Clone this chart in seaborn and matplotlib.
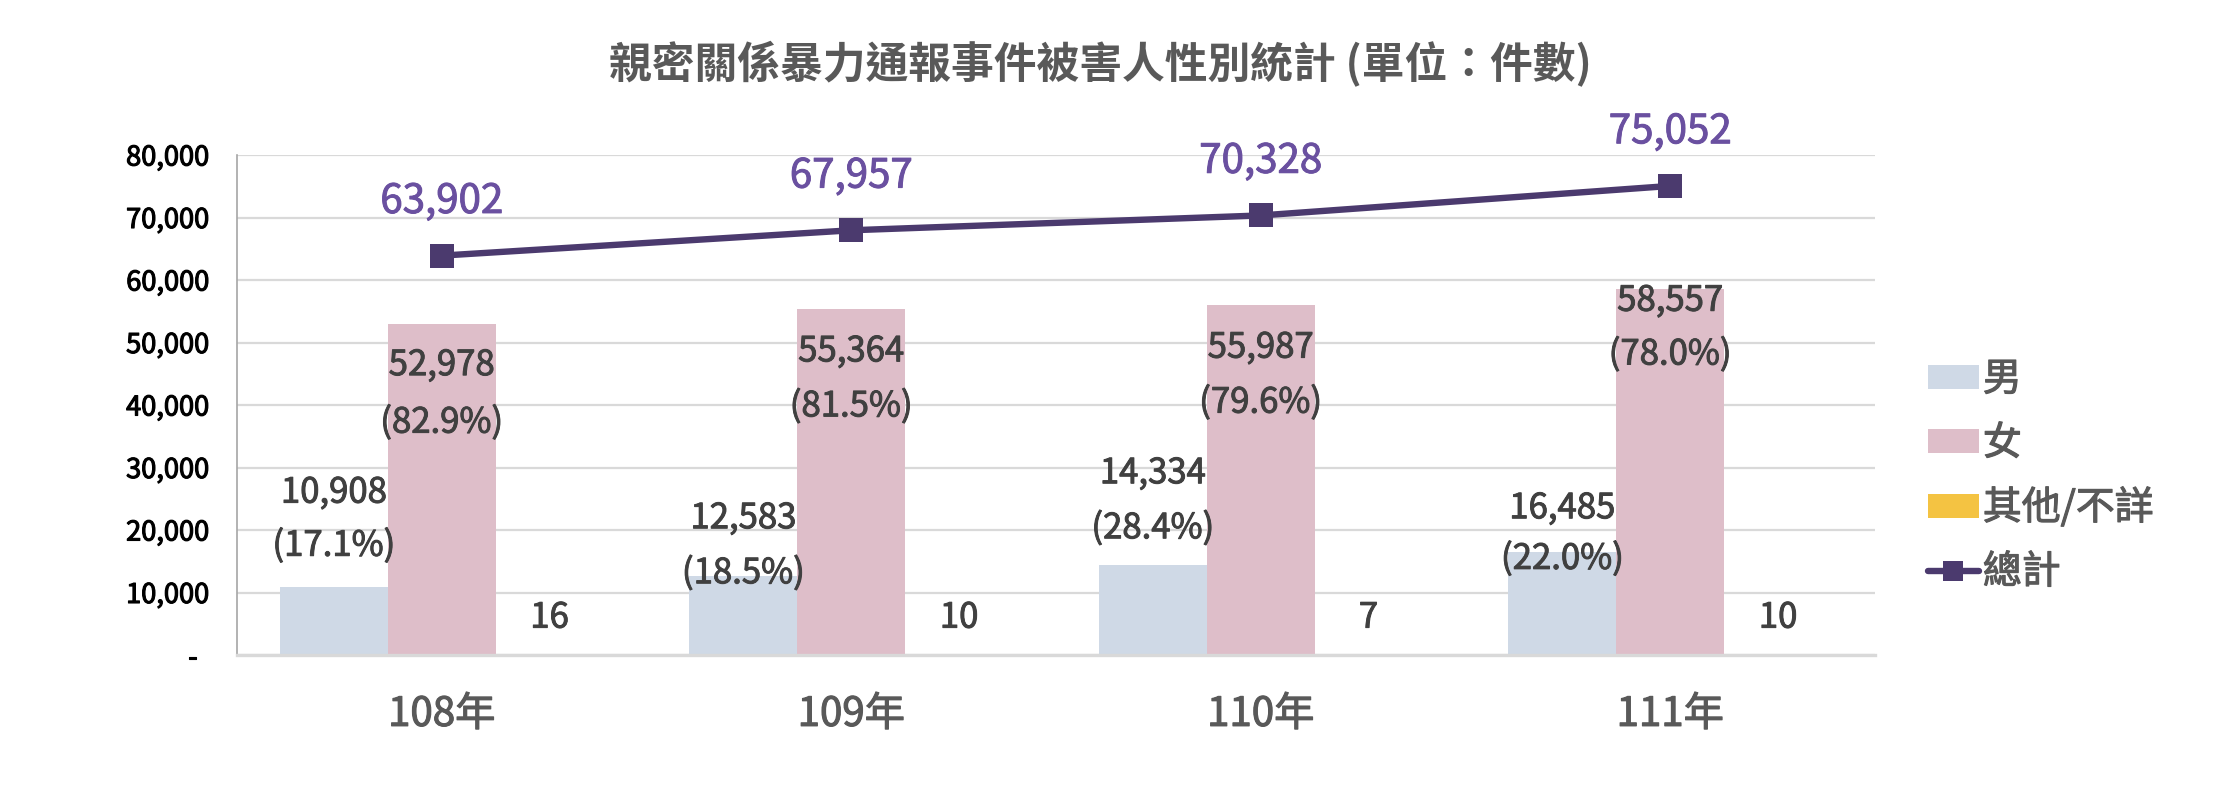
import numpy as np
import pandas as pd
import matplotlib
matplotlib.use("Agg")
import matplotlib.pyplot as plt
import matplotlib.patheffects as pe
from matplotlib.patches import Patch
from matplotlib.lines import Line2D
import seaborn as sns

# ---------------- data ----------------
years = ["108年", "109年", "110年", "111年"]
male = [10908, 12583, 14334, 16485]
female = [52978, 55364, 55987, 58557]
other = [16, 10, 7, 10]
total = [63902, 67957, 70328, 75052]
male_pct = ["(17.1%)", "(18.5%)", "(28.4%)", "(22.0%)"]
female_pct = ["(82.9%)", "(81.5%)", "(79.6%)", "(78.0%)"]
series_names = ["男", "女", "其他/不詳"]
total_name = "總計"
title = "親密關係暴力通報事件被害人性別統計 (單位：件數)"
y_ticks = [0, 10000, 20000, 30000, 40000, 50000, 60000, 70000, 80000]

# label anchor heights (data units) as placed in the reference
male_val_y = [25900, 21800, 29000, 23400]
male_pct_y = [17400, 13000, 20200, 15300]
female_val_y = [46300, 48500, 49100, 56600]
female_pct_y = [37100, 39700, 40300, 48000]
other_lab_y = 5900

# ---------------- style ----------------
sns.set_theme(style="white")
plt.rcParams["font.family"] = ["Noto Sans CJK TC", "DejaVu Sans"]


def thick(color, w=0.35):
    # slight stroke to emulate a medium font weight
    return [pe.withStroke(linewidth=w, foreground=color)]


c_male = "#CFD9E6"
c_female = "#DEBEC9"
c_other = "#F4C342"
c_line = "#4B3A6E"
c_total_lab = "#6A50A0"
c_lab = "#404040"
c_gray = "#595959"

df = pd.DataFrame({
    "year": np.repeat(years, 3),
    "group": series_names * len(years),
    "count": np.ravel(np.column_stack([male, female, other])),
})

fig = plt.figure(figsize=(11.12, 3.98), dpi=200)
ax = fig.add_axes([237 / 2224, 141 / 796, (1875 - 237) / 2224, 500 / 796])

sns.barplot(data=df, x="year", y="count", hue="group", order=years,
            hue_order=series_names, palette=[c_male, c_female, c_other],
            width=0.79, gap=0, dodge=True, legend=False, ax=ax,
            errorbar=None, saturation=1, linewidth=0, zorder=2)

sns.pointplot(x=years, y=total, order=years, color=c_line, markers="s",
              linestyles="-", linewidth=2.3, markersize=8.5,
              markeredgewidth=0, errorbar=None, ax=ax, zorder=4)

ax.set_ylim(0, 80000)
ax.set_xlim(-0.5, len(years) - 0.5)
ax.set_yticks(y_ticks)
ax.set_yticklabels([f"{v:,}" if v else "-  " for v in y_ticks])
ax.set_xlabel("")
ax.set_ylabel("")
ax.yaxis.grid(True, color="#D9D9D9", linewidth=0.8, zorder=0)
ax.set_axisbelow(True)
for s in ["top", "right"]:
    ax.spines[s].set_visible(False)
ax.spines["left"].set_color("#A6A6A6")
ax.spines["left"].set_linewidth(0.6)
ax.spines["bottom"].set_color("#D9D9D9")
ax.spines["bottom"].set_linewidth(1.2)
ax.tick_params(axis="y", length=0, pad=10, labelsize=9.8, labelcolor="black")
ax.tick_params(axis="x", length=0, pad=14, labelsize=14.5, labelcolor=c_gray)
for t in ax.get_yticklabels():
    t.set_path_effects(thick("black", 0.4))
for t in ax.get_xticklabels():
    t.set_path_effects(thick(c_gray, 0.4))

# bar centres from seaborn's containers
conts = ax.containers
mx = [b.get_x() + b.get_width() / 2 for b in conts[0]]
fx = [b.get_x() + b.get_width() / 2 for b in conts[1]]
ox = [b.get_x() + b.get_width() / 2 for b in conts[2]]

LS = 12.5
kw = dict(ha="center", va="center", fontsize=LS, color=c_lab, zorder=5,
          path_effects=thick(c_lab))
for i in range(len(years)):
    ax.text(mx[i], male_val_y[i], f"{male[i]:,}", **kw)
    ax.text(mx[i], male_pct_y[i], male_pct[i], **kw)
    ax.text(fx[i], female_val_y[i], f"{female[i]:,}", **kw)
    ax.text(fx[i], female_pct_y[i], female_pct[i], **kw)
    ax.text(ox[i], other_lab_y, f"{other[i]:,}", **kw)
    ax.annotate(f"{total[i]:,}", (i, total[i]), xytext=(0, 19.5),
                textcoords="offset points", ha="center", va="center",
                fontsize=14.5, color=c_total_lab, zorder=5,
                path_effects=thick(c_total_lab))

fig.text(1100 / 2224, 1 - 64 / 796, title, ha="center", va="center",
         fontsize=15.4, fontweight="bold", color=c_gray)

handles = [Patch(facecolor=c_male, edgecolor="none"),
           Patch(facecolor=c_female, edgecolor="none"),
           Patch(facecolor=c_other, edgecolor="none"),
           Line2D([], [], color=c_line, linewidth=2.3, marker="s",
                  markersize=7.5, markeredgewidth=0)]
leg = fig.legend(handles, series_names + [total_name], loc="center left",
                 bbox_to_anchor=(1928 / 2224, 1 - 476 / 796), frameon=False,
                 prop={"size": 14},
                 handlelength=1.31, handleheight=0.57,
                 handletextpad=0.1, labelspacing=0.62, borderpad=0,
                 borderaxespad=0)
for t in leg.get_texts():
    t.set_color(c_gray)
    t.set_path_effects(thick(c_gray, 0.4))

fig.savefig("out.png", dpi=200)
